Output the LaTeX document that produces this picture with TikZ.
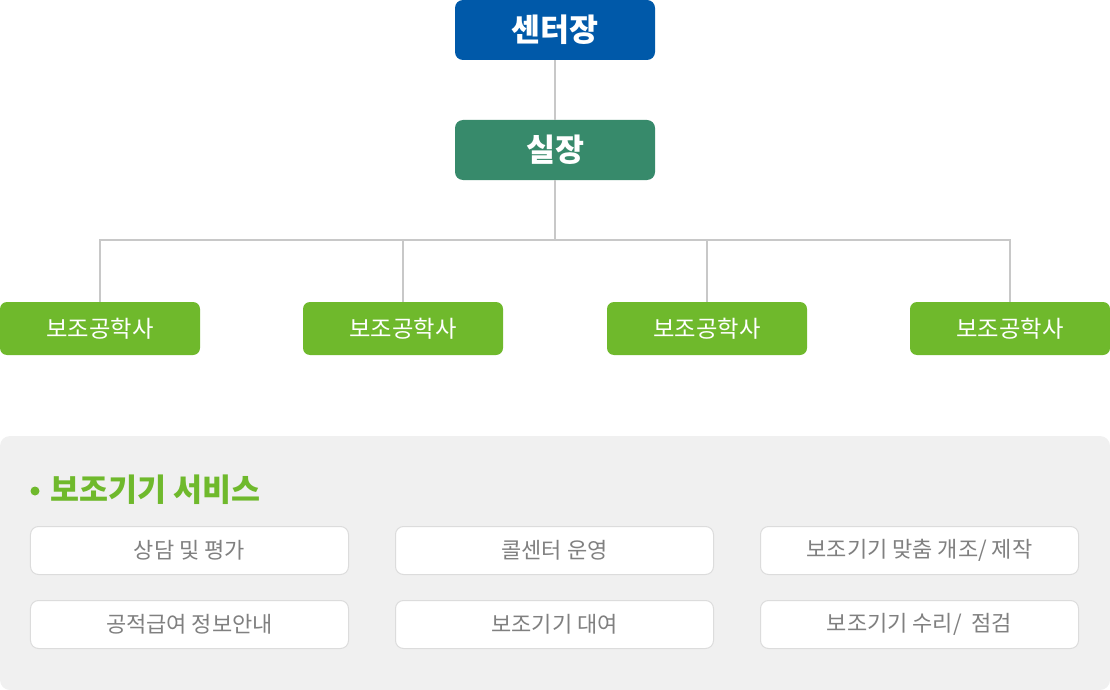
\documentclass[tikz,border=0pt]{standalone}
\usepackage{fontspec}
\setmainfont{Noto Sans CJK KR}
\definecolor{headblue}{HTML}{0059A9}
\definecolor{roomgreen}{HTML}{378A6B}
\definecolor{leafgreen}{HTML}{6FB92C}
\definecolor{linegray}{HTML}{C8C8C8}
\definecolor{panelgray}{HTML}{F0F0F0}
\definecolor{boxline}{HTML}{DCDCDC}
\definecolor{textgray}{HTML}{808080}
\begin{document}
\begin{tikzpicture}[x=1bp,y=-1bp,
    topbox/.style={text=white, rounded corners=8bp, minimum width=200bp, minimum height=60bp, inner sep=0pt, font=\fontsize{31.5bp}{36bp}\selectfont\bfseries},
    engbox/.style={fill=leafgreen, text=white, rounded corners=7bp, minimum width=200bp, minimum height=53bp, inner sep=0pt, font=\fontsize{23.3bp}{27bp}\selectfont},
    servbox/.style={draw=boxline, line width=1bp, fill=white, text=textgray, rounded corners=8bp, minimum width=318bp, minimum height=48bp, inner sep=0pt, font=\fontsize{22bp}{26bp}\selectfont},
    conn/.style={draw=linegray, line width=1.5bp}]
            \useasboundingbox (0,0) rectangle (1110,690);

            % organisation
            \node [topbox, fill=headblue] (head) at (555,30) {센터장};
            \node [topbox, fill=roomgreen] (room) at (555,150) {실장};
            \node [engbox] (eng1) at (100,328.5) {보조공학사};
            \node [engbox] (eng2) at (403,328.5) {보조공학사};
            \node [engbox] (eng3) at (707,328.5) {보조공학사};
            \node [engbox] (eng4) at (1010,328.5) {보조공학사};
            \coordinate (bar) at (555,240);
            \draw [conn] (head) -- (room);
            \draw [conn] (room) -- (bar);
            \foreach \i in {1,...,4}
                \draw [conn] (bar) -| (eng\i.north);

            % services
            \fill [panelgray, rounded corners=10bp] (0,436) rectangle (1110,690);
            \fill [leafgreen] (35,491) circle (4.5bp);
            \node [anchor=west, text=leafgreen, font=\fontsize{31.5bp}{36bp}\selectfont\bfseries] (title) at (47,490) {보조기기 서비스};
            \node [servbox] (s1) at (189.5,550.5) {상담 및 평가};
            \node [servbox] (s2) at (554.5,550.5) {콜센터 운영};
            \node [servbox] (s3) at (919.5,550.5) {보조기기 맞춤 개조/ 제작};
            \node [servbox] (s4) at (189.5,624.5) {공적급여 정보안내};
            \node [servbox] (s5) at (554.5,624.5) {보조기기 대여};
            \node [servbox] (s6) at (919.5,624.5) {보조기기 수리/~~점검};
        \end{tikzpicture}
\end{document}
